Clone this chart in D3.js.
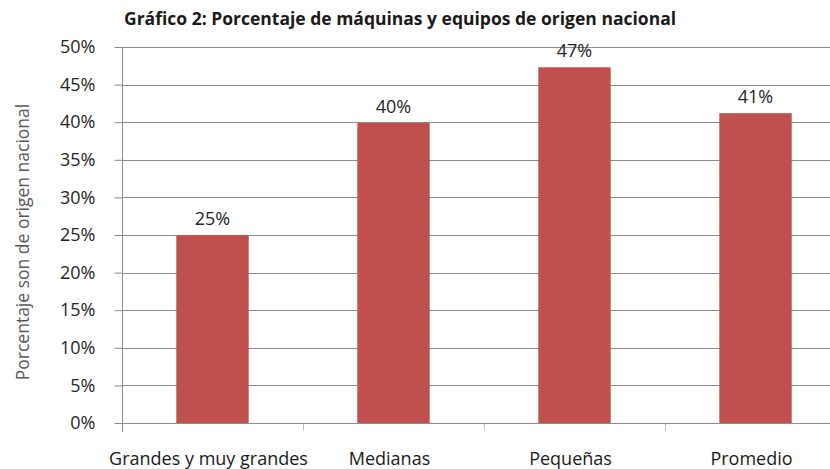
<!DOCTYPE html>
<html>
<head>
    <meta charset="utf-8">
    <title>Gráfico 2</title>
    <style>
        body { margin: 0; background: #fff; }
        text { font-family: "Open Sans", "Noto Sans", sans-serif; }
    </style>
</head>
<body>
    <script src="https://cdnjs.cloudflare.com/ajax/libs/d3/7.9.0/d3.min.js"></script>
    <script>
        const categories = ["Grandes y muy grandes", "Medianas", "Pequeñas", "Promedio"];
        const values = [0.250, 0.399, 0.473, 0.412];
        const valueLabels = ["25%", "40%", "47%", "41%"];
        const yTicks = [0, 0.05, 0.10, 0.15, 0.20, 0.25, 0.30, 0.35, 0.40, 0.45, 0.50];

        const width = 830;
        const height = 469;
        const margin = {top: 47, right: -16, bottom: 46, left: 122};

        const svg = d3.select("body")
            .append("svg")
            .attr("width", width)
            .attr("height", height);

        const x = d3.scaleBand()
            .domain(categories)
            .range([margin.left, width - margin.right])
            .paddingInner(0.6)
            .paddingOuter(0.3);

        const y = d3.scaleLinear()
            .domain([0, 0.5])
            .range([height - margin.bottom, margin.top]);

        // gridlines
        svg.append("g")
            .selectAll("line")
            .data(yTicks.slice(1))
            .join("line")
            .attr("x1", margin.left)
            .attr("x2", width)
            .attr("y1", d => Math.round(y(d)) + 0.5)
            .attr("y2", d => Math.round(y(d)) + 0.5)
            .attr("stroke", "#8c8c8c")
            .attr("stroke-width", 1);

        // bars
        svg.append("g")
            .selectAll("rect")
            .data(values)
            .join("rect")
            .attr("x", (d, i) => x(categories[i]))
            .attr("y", d => y(d))
            .attr("width", x.bandwidth())
            .attr("height", d => y(0) - y(d))
            .attr("fill", "#c0504d");

        // value labels
        svg.append("g")
            .selectAll("text")
            .data(values)
            .join("text")
            .attr("x", (d, i) => x(categories[i]) + x.bandwidth() / 2)
            .attr("y", d => y(d) - 10)
            .attr("text-anchor", "middle")
            .attr("font-size", 18)
            .attr("fill", "#262626")
            .text((d, i) => valueLabels[i]);

        // y axis
        const yAxis = svg.append("g")
            .attr("transform", `translate(${margin.left + 0.5},0)`)
            .call(d3.axisLeft(y).tickValues(yTicks).tickFormat(d3.format(".0%")).tickSize(8).tickSizeOuter(0).tickPadding(19));
        yAxis.select(".domain").attr("stroke", "#8c8c8c")
            .attr("d", `M0,${y(0.5)}V${y(0) + 9}`);
        yAxis.selectAll(".tick line").attr("stroke", "#8c8c8c");
        yAxis.selectAll(".tick text")
            .attr("font-size", 18)
            .attr("fill", "#262626")
            .style("font-family", "'Open Sans', sans-serif");

        // x axis
        const step = x.step();
        const xAxis = svg.append("g")
            .attr("transform", `translate(0,${Math.round(y(0)) + 0.5})`);
        xAxis.append("line")
            .attr("x1", margin.left)
            .attr("x2", width)
            .attr("stroke", "#8c8c8c");
        xAxis.selectAll(".cat-tick")
            .data(categories)
            .join("line")
            .attr("class", "cat-tick")
            .attr("x1", d => Math.round(x(d) + x.bandwidth() / 2 + step / 2) + 0.5)
            .attr("x2", d => Math.round(x(d) + x.bandwidth() / 2 + step / 2) + 0.5)
            .attr("y1", 0)
            .attr("y2", 7)
            .attr("stroke", "#bfbfbf");
        xAxis.selectAll("text")
            .data(categories)
            .join("text")
            .attr("x", d => x(d) + x.bandwidth() / 2 - 4)
            .attr("y", 41)
            .attr("text-anchor", "middle")
            .attr("font-size", 18)
            .attr("fill", "#1a1a1a")
            .text(d => d);

        // y axis title
        svg.append("text")
            .attr("transform", "translate(29,242) rotate(-90)")
            .attr("text-anchor", "middle")
            .attr("font-size", 17.5)
            .attr("fill", "#595959")
            .text("Porcentaje son de origen nacional");

        // title
        svg.append("text")
            .attr("x", 400)
            .attr("y", 25)
            .attr("text-anchor", "middle")
            .attr("font-size", 17.5)
            .attr("font-weight", "bold")
            .attr("fill", "#1a1a1a")
            .text("Gráfico 2: Porcentaje de máquinas y equipos de origen nacional");
    </script>
</body>
</html>
